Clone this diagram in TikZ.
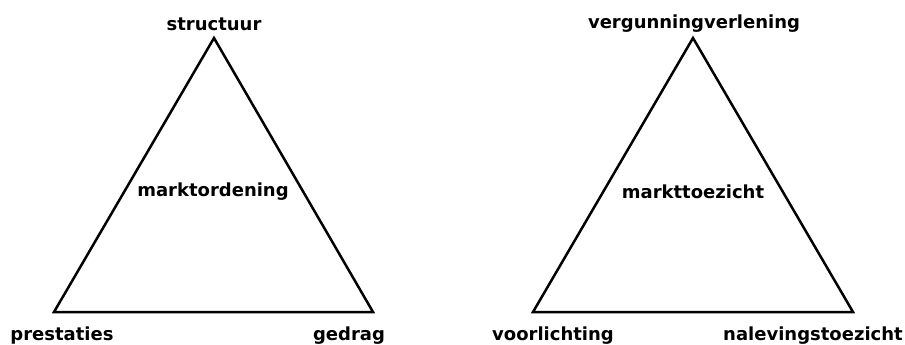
\documentclass[tikz,border=0pt]{standalone}
\usepackage{fontspec}
\setmainfont{DejaVu Sans}
\begin{document}
\begin{tikzpicture}[x=1pt,y=-1pt,
  lbl/.style={font=\bfseries\fontsize{18}{20}\selectfont, inner sep=0pt},
  tri/.style={draw=black, line width=2.5pt, line join=miter}]
\useasboundingbox (0,0) rectangle (905,345);
% left triangle
\coordinate (LA) at (214,38);
\coordinate (LB) at (54,312);
\coordinate (LC) at (373,312);
\draw[tri] (LA) -- (LB) -- (LC) -- cycle;
\node[lbl] (ltop) at (214,24) {structuur};
\node[lbl] (lmid) at (213,192) {marktordening};
\node[lbl] (lbl1) at (62,336) {prestaties};
\node[lbl] (lbr) at (349,336) {gedrag};
% right triangle
\coordinate (RA) at (693,38);
\coordinate (RB) at (533,312);
\coordinate (RC) at (853,312);
\draw[tri] (RA) -- (RB) -- (RC) -- cycle;
\node[lbl] (rtop) at (694,24) {vergunningverlening};
\node[lbl] (rmid) at (693,192) {markttoezicht};
\node[lbl] (rbl) at (553,336) {voorlichting};
\node[lbl] (rbr) at (813,336) {nalevingstoezicht};
\end{tikzpicture}
\end{document}
